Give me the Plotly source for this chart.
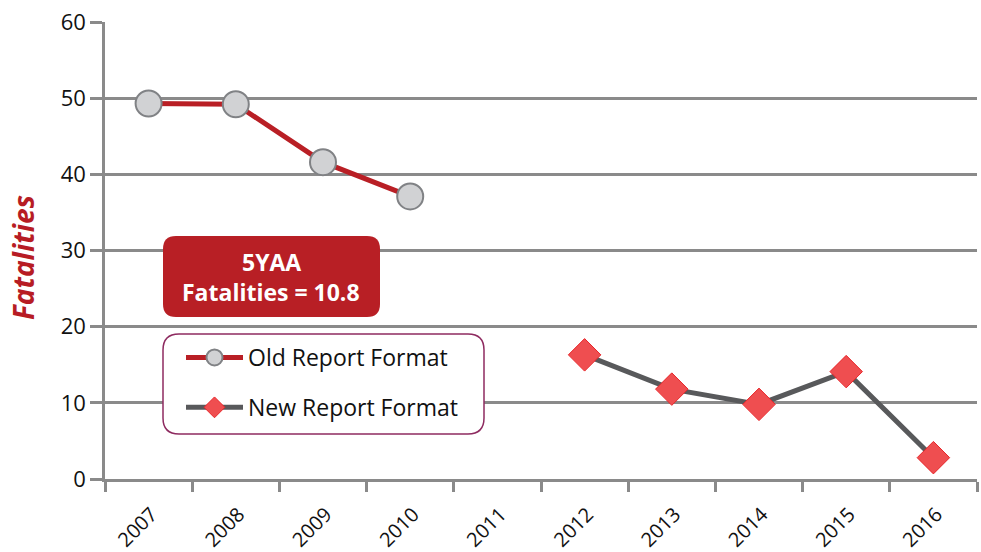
import plotly.graph_objects as go

years = ["2007", "2008", "2009", "2010", "2011", "2012", "2013", "2014", "2015", "2016"]
old_years = ["2007", "2008", "2009", "2010"]
old_values = [49.3, 49.2, 41.6, 37.1]
new_years = ["2012", "2013", "2014", "2015", "2016"]
new_values = [16.3, 11.8, 9.8, 14.1, 2.8]
y_ticks = [0, 10, 20, 30, 40, 50, 60]

W, H = 981, 552
L, R, T, B = 105, 4, 22, 73
PW, PH = W - L - R, H - T - B
FONT = "Open Sans"


def px_to_paper(x, y):
    return (x - L) / PW, (H - B - y) / PH


def rounded_rect(x0, y0, x1, y1, r):
    # pixel coordinates -> paper coordinates path
    rx, ry = r / PW, r / PH
    a0, b1 = px_to_paper(x0, y0)
    a1, b0 = px_to_paper(x1, y1)
    return (f"M{a0+rx},{b1} L{a1-rx},{b1} Q{a1},{b1} {a1},{b1-ry} "
            f"L{a1},{b0+ry} Q{a1},{b0} {a1-rx},{b0} L{a0+rx},{b0} "
            f"Q{a0},{b0} {a0},{b0+ry} L{a0},{b1-ry} Q{a0},{b1} {a0+rx},{b1} Z")


fig = go.Figure()
fig.add_trace(go.Scatter(
    x=old_years, y=old_values, mode="lines+markers", name="Old Report Format",
    legendgroup="a",
    line=dict(color="#b91f25", width=5),
    marker=dict(symbol="circle", size=26, color="#d1d2d4",
                line=dict(color="#808285", width=2)),
))
fig.add_trace(go.Scatter(
    x=new_years, y=new_values, mode="lines+markers", name="New Report Format",
    legendgroup="b",
    line=dict(color="#58595b", width=5),
    marker=dict(symbol="diamond", size=25, color="#ef4e50",
                line=dict(color="#e8262a", width=1)),
))

lx, ly = px_to_paper(181, 336)
fig.update_layout(
    width=W, height=H,
    margin=dict(l=L, r=R, t=T, b=B, autoexpand=False),
    paper_bgcolor="white", plot_bgcolor="white",
    font=dict(family=FONT, color="#000000"),
    showlegend=True,
    legend=dict(x=lx, y=ly, xanchor="left", yanchor="top",
                bgcolor="rgba(0,0,0,0)", borderwidth=0, itemwidth=57,
                font=dict(size=23, family=FONT, color="#111111"),
                traceorder="grouped", tracegroupgap=17),
    xaxis=dict(type="category", categoryorder="array", categoryarray=years,
               range=[-0.5, 9.5], tickson="boundaries", ticks="outside",
               ticklen=10, tickwidth=2.5, tickcolor="#8a8a8a",
               showline=True, linecolor="#8a8a8a", linewidth=2.5,
               showgrid=False, tickangle=-45, automargin=False,
               ticklabelstandoff=13, ticklabelshift=3,
               tickfont=dict(size=20, family=FONT, color="#111111")),
    yaxis=dict(range=[0, 60], tickvals=y_ticks, ticks="outside", ticklen=12,
               tickwidth=2.5, tickcolor="#8a8a8a", showline=True,
               linecolor="#8a8a8a", linewidth=2.5, showgrid=True,
               gridcolor="#8a8a8a", gridwidth=2.5, zeroline=False,
               automargin=False,
               tickfont=dict(size=22, family=FONT, color="#111111")),
    shapes=[
        dict(type="path", xref="paper", yref="paper",
             path=rounded_rect(163, 236, 380, 317, 13),
             fillcolor="#b81f25", line=dict(width=0), layer="above"),
        dict(type="path", xref="paper", yref="paper",
             path=rounded_rect(163, 334, 484, 434, 16),
             fillcolor="white", line=dict(color="#8e2b60", width=1.5),
             layer="above"),
    ],
)

ax, ay = px_to_paper(271, 262)
fig.add_annotation(x=ax, y=ay, xref="paper", yref="paper", text="<b>5YAA</b>",
                   xanchor="center", yanchor="middle",
                   showarrow=False, font=dict(size=23, color="white", family=FONT))
ax, ay = px_to_paper(271, 292)
fig.add_annotation(x=ax, y=ay, xref="paper", yref="paper",
                   text="<b>Fatalities = 10.8</b>",
                   xanchor="center", yanchor="middle",
                   showarrow=False, font=dict(size=23, color="white", family=FONT))
tx, ty = px_to_paper(23, 258)
fig.add_annotation(x=tx, y=ty, xref="paper", yref="paper",
                   text="<b><i>Fatalities</i></b>", textangle=-90,
                   xanchor="center", yanchor="middle",
                   showarrow=False, font=dict(size=28, color="#b71c24", family=FONT))

fig.write_html(
    "out.html",
    config={"displayModeBar": False},
    post_script="document.body.style.margin='0';document.body.style.overflow='hidden';",
)
